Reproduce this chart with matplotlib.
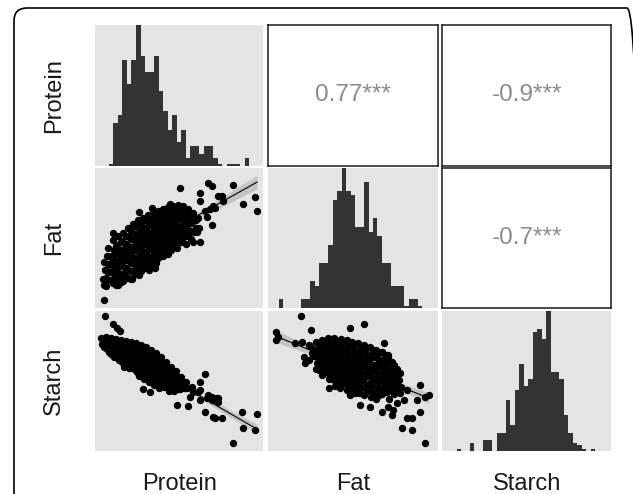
import numpy as np
import matplotlib
matplotlib.use("Agg")
import matplotlib.pyplot as plt
from matplotlib.patches import FancyBboxPatch
from matplotlib.transforms import IdentityTransform

plt.rcParams['font.family'] = ['Liberation Sans', 'DejaVu Sans']

variables = ["Protein", "Fat", "Starch"]
limits = {"Protein": (8.0, 24.83), "Fat": (1.99, 9.02), "Starch": (54.95, 74.88)}

# ---- diagonal histograms (bin start, bin width, counts) ----
protein_hist_start = 9.383
protein_hist_width = 0.4533
protein_hist_counts = [0.5, 11, 13, 27, 21, 27, 36, 28, 24, 24, 28, 19, 14, 9, 13, 6, 9, 2,
                       5, 5, 3, 5, 5, 2, 0.5, 0, 0.5, 0.5, 0.5, 0, 2]

fat_hist_start = 2.4216
fat_hist_width = 0.1866
fat_hist_counts = [2, 0, 0, 0, 0, 2, 2, 6, 5, 10, 10, 14, 24, 26, 31, 26, 25, 18, 18, 28, 17,
                   20, 16, 10, 10, 5, 5, 5, 0.5, 2, 2, 0.5]

starch_hist_start = 56.63
starch_hist_width = 0.5288
starch_hist_counts = [0.5, 0, 0, 2, 0, 0, 3, 3, 0, 5, 5, 14, 7, 17, 24, 18, 20, 33, 34, 31, 39,
                      22, 22, 20, 10, 5, 2, 1.5, 0.5, 0, 0.5]

# ---- lower scatter panels (x, y) ----
fat_vs_protein = [
    (8.9, 4.3), (9.0, 3.9), (8.8, 3.45), (8.9, 3.15), (8.9, 2.4),
    (9.3, 5.0), (9.2, 4.6), (9.4, 4.2), (9.3, 3.8), (9.2, 3.4),
    (9.8, 5.4), (9.9, 4.9), (9.7, 4.5), (9.8, 4.1), (9.9, 3.7), (9.8, 3.25),
    (10.3, 5.6), (10.2, 5.15), (10.4, 4.75), (10.3, 4.35), (10.2, 3.95), (10.4, 3.55), (10.3, 3.15),
    (10.8, 5.75), (10.7, 5.35), (10.9, 4.95), (10.8, 4.55), (10.7, 4.15), (10.9, 3.75), (10.8, 3.35),
    (11.3, 6.0), (11.4, 5.55), (11.2, 5.15), (11.3, 4.75), (11.4, 4.35), (11.2, 3.95), (11.3, 3.5),
    (11.8, 6.2), (11.7, 5.8), (11.9, 5.4), (11.8, 5.0), (11.7, 4.6), (11.9, 4.2), (11.8, 3.8), (11.7, 3.45),
    (12.3, 6.4), (12.4, 6.0), (12.2, 5.6), (12.3, 5.2), (12.4, 4.8), (12.2, 4.4), (12.3, 4.0), (12.4, 3.65),
    (12.8, 6.5), (12.7, 6.1), (12.9, 5.7), (12.8, 5.3), (12.7, 4.9), (12.9, 4.5), (12.8, 4.1),
    (13.3, 6.65), (13.4, 6.25), (13.2, 5.85), (13.3, 5.45), (13.4, 5.05), (13.2, 4.65), (13.3, 4.25), (13.4, 3.9),
    (13.8, 6.8), (13.7, 6.4), (13.9, 6.0), (13.8, 5.6), (13.7, 5.2), (13.9, 4.8), (13.8, 4.4), (13.7, 4.05),
    (14.3, 6.9), (14.4, 6.5), (14.2, 6.1), (14.3, 5.7), (14.4, 5.3), (14.2, 4.9), (14.3, 4.5),
    (14.8, 7.0), (14.7, 6.6), (14.9, 6.2), (14.8, 5.8), (14.7, 5.4), (14.9, 5.0), (14.8, 4.6),
    (15.3, 7.1), (15.4, 6.7), (15.2, 6.3), (15.3, 5.9), (15.4, 5.5), (15.2, 5.1), (15.3, 4.7),
    (15.8, 7.15), (15.7, 6.75), (15.9, 6.35), (15.8, 5.95), (15.7, 5.55), (15.9, 5.15),
    (16.3, 7.2), (16.4, 6.8), (16.2, 6.4), (16.3, 6.0), (16.4, 5.6), (16.2, 5.0),
    (16.8, 7.15), (16.7, 6.7), (16.9, 6.25), (16.8, 5.8), (16.7, 5.35),
    (17.3, 7.0), (17.4, 6.55), (17.2, 6.1), (17.3, 5.65),
    (17.8, 6.8), (17.7, 6.3), (17.9, 5.8),
    (18.3, 6.5), (18.4, 6.0),
    (16.5, 8.05), (19.3, 8.3), (19.7, 8.15), (21.8, 8.2), (18.5, 7.8), (18.5, 7.4),
    (20.7, 7.65), (22.8, 7.25), (24.0, 7.6), (24.2, 6.9), (19.7, 6.15), (18.5, 5.3),
    (13.7, 7.05), (12.4, 6.85), (9.8, 5.75), (14.0, 4.0), (19.0, 6.9), (19.5, 7.0),
    (20.0, 7.05), (20.3, 7.65), (20.8, 7.4), (19.2, 6.55), (19.8, 7.15), (18.2, 5.8),
    (17.8, 5.3), (15.5, 7.25), (16.3, 7.05),
]
fat_vs_protein_core = [
    (9.1, 3.9), (9.1, 3.5), (9.1, 3.1),
    (9.55, 4.6), (9.55, 4.2), (9.55, 3.8), (9.55, 3.4),
    (10.05, 5.1), (10.05, 4.7), (10.05, 4.3), (10.05, 3.9), (10.05, 3.5), (10.05, 3.15),
    (10.55, 5.3), (10.55, 4.9), (10.55, 4.5), (10.55, 4.1), (10.55, 3.7), (10.55, 3.3),
    (11.05, 5.6), (11.05, 5.2), (11.05, 4.8), (11.05, 4.4), (11.05, 4.0), (11.05, 3.6),
    (11.55, 5.85), (11.55, 5.45), (11.55, 5.05), (11.55, 4.65), (11.55, 4.25), (11.55, 3.85), (11.55, 3.45),
    (12.05, 6.1), (12.05, 5.7), (12.05, 5.3), (12.05, 4.9), (12.05, 4.5), (12.05, 4.1), (12.05, 3.7),
    (12.55, 6.25), (12.55, 5.85), (12.55, 5.45), (12.55, 5.05), (12.55, 4.65), (12.55, 4.25), (12.55, 3.85),
    (13.05, 6.4), (13.05, 6.0), (13.05, 5.6), (13.05, 5.2), (13.05, 4.8), (13.05, 4.4), (13.05, 4.0),
    (13.55, 6.55), (13.55, 6.15), (13.55, 5.75), (13.55, 5.35), (13.55, 4.95), (13.55, 4.55), (13.55, 4.15),
    (14.05, 6.65), (14.05, 6.25), (14.05, 5.85), (14.05, 5.45), (14.05, 5.05), (14.05, 4.65), (14.05, 4.25),
    (14.55, 6.75), (14.55, 6.35), (14.55, 5.95), (14.55, 5.55), (14.55, 5.15), (14.55, 4.75),
    (15.05, 6.85), (15.05, 6.45), (15.05, 6.05), (15.05, 5.65), (15.05, 5.25), (15.05, 4.85),
    (15.55, 6.9), (15.55, 6.5), (15.55, 6.1), (15.55, 5.7), (15.55, 5.3), (15.55, 4.9),
    (16.05, 6.95), (16.05, 6.55), (16.05, 6.15), (16.05, 5.75), (16.05, 5.35),
    (16.55, 6.9), (16.55, 6.5), (16.55, 6.1), (16.55, 5.7), (16.55, 5.3),
    (17.05, 6.8), (17.05, 6.4), (17.05, 6.0), (17.05, 5.6), (17.05, 5.2),
    (17.55, 6.65), (17.55, 6.25), (17.55, 5.85), (17.55, 5.45),
    (18.05, 6.4), (18.05, 6.0),
]

starch_vs_protein = [
    (9.0, 74.14), (9.83, 73.0), (10.17, 72.39), (10.5, 72.0),
    (8.6, 71.0), (8.7, 70.14),
    (9.1, 71.14), (9.0, 70.29), (9.2, 69.43),
    (9.6, 71.0), (9.7, 70.14), (9.5, 69.29), (9.6, 68.71),
    (10.1, 70.86), (10.0, 70.0), (10.2, 69.14), (10.1, 68.29),
    (10.6, 70.71), (10.7, 69.86), (10.5, 69.0), (10.6, 68.14), (10.7, 67.57),
    (11.1, 70.57), (11.0, 69.71), (11.2, 68.86), (11.1, 68.0), (11.0, 67.14),
    (11.6, 70.43), (11.7, 69.57), (11.5, 68.71), (11.6, 67.86), (11.7, 67.0),
    (12.1, 70.29), (12.0, 69.43), (12.2, 68.57), (12.1, 67.71), (12.0, 66.86), (12.2, 66.14),
    (12.6, 70.0), (12.7, 69.14), (12.5, 68.29), (12.6, 67.43), (12.7, 66.57), (12.5, 65.71),
    (13.1, 69.71), (13.0, 68.86), (13.2, 68.0), (13.1, 67.14), (13.0, 66.29), (13.2, 65.43),
    (13.6, 69.29), (13.7, 68.43), (13.5, 67.57), (13.6, 66.71), (13.7, 65.86), (13.5, 65.0),
    (14.1, 68.86), (14.0, 68.0), (14.2, 67.14), (14.1, 66.29), (14.0, 65.43), (14.2, 64.57),
    (14.6, 68.29), (14.7, 67.43), (14.5, 66.57), (14.6, 65.71), (14.7, 64.86), (14.5, 64.14),
    (15.1, 67.57), (15.0, 66.71), (15.2, 65.86), (15.1, 65.0), (15.0, 64.14),
    (15.6, 66.86), (15.7, 66.0), (15.5, 65.14), (15.6, 64.29), (15.7, 63.57),
    (16.1, 66.29), (16.0, 65.43), (16.2, 64.57), (16.1, 63.71),
    (16.6, 65.43), (16.7, 64.57), (16.5, 63.71),
    (17.1, 64.71), (17.0, 63.86),
    (12.83, 63.67), (13.5, 63.33), (16.17, 61.43), (17.33, 61.29), (19.0, 65.86), (18.5, 64.76),
    (17.67, 63.95), (18.33, 63.33), (17.5, 62.62), (18.5, 62.14), (17.83, 63.33), (19.33, 62.86),
    (19.67, 62.62), (20.33, 62.38), (19.0, 60.48), (19.83, 59.76), (20.0, 59.52), (20.67, 59.52),
    (22.67, 60.48), (24.17, 60.14), (22.83, 58.1), (24.0, 57.86), (21.83, 56.05), (16.83, 64.29),
    (17.17, 63.81), (18.5, 63.57), (19.17, 62.38), (20.33, 61.9), (19.67, 62.14), (20.17, 62.38),
]
starch_vs_protein_core = [
    (8.85, 70.57), (8.85, 69.71),
    (9.35, 70.71), (9.35, 69.86), (9.35, 69.0),
    (9.85, 70.57), (9.85, 69.71), (9.85, 68.86), (9.85, 68.3),
    (10.35, 70.43), (10.35, 69.57), (10.35, 68.71), (10.35, 67.86),
    (10.85, 70.29), (10.85, 69.43), (10.85, 68.57), (10.85, 67.71), (10.85, 66.9),
    (11.35, 70.14), (11.35, 69.29), (11.35, 68.43), (11.35, 67.57), (11.35, 66.71),
    (11.85, 70.0), (11.85, 69.14), (11.85, 68.29), (11.85, 67.43), (11.85, 66.57),
    (12.35, 69.71), (12.35, 68.86), (12.35, 68.0), (12.35, 67.14), (12.35, 66.29), (12.35, 65.5),
    (12.85, 69.43), (12.85, 68.57), (12.85, 67.71), (12.85, 66.86), (12.85, 66.0), (12.85, 65.14),
    (13.35, 69.0), (13.35, 68.14), (13.35, 67.29), (13.35, 66.43), (13.35, 65.57), (13.35, 64.71),
    (13.85, 68.57), (13.85, 67.71), (13.85, 66.86), (13.85, 66.0), (13.85, 65.14), (13.85, 64.29),
    (14.35, 68.0), (14.35, 67.14), (14.35, 66.29), (14.35, 65.43), (14.35, 64.57), (14.35, 63.9),
    (14.85, 67.43), (14.85, 66.57), (14.85, 65.71), (14.85, 64.86), (14.85, 64.0),
    (15.35, 66.71), (15.35, 65.86), (15.35, 65.0), (15.35, 64.14), (15.35, 63.5),
    (15.85, 66.0), (15.85, 65.14), (15.85, 64.29), (15.85, 63.5),
    (16.35, 65.43), (16.35, 64.57), (16.35, 63.71),
    (16.85, 64.71), (16.85, 63.86),
]

starch_vs_fat = [
    (3.33, 74.14), (2.33, 71.9), (2.39, 71.19), (2.33, 70.71), (3.77, 72.14), (5.40, 72.38),
    (5.98, 73.0), (3.12, 70.24), (3.40, 70.48), (3.67, 70.0), (3.46, 68.33), (3.53, 67.38),
    (4.09, 66.43), (4.23, 65.71), (6.78, 70.24), (6.72, 69.05), (6.98, 68.57), (7.23, 67.14),
    (3.74, 69.86), (3.80, 68.86), (3.70, 67.86),
    (3.99, 70.43), (4.05, 69.43), (3.95, 68.43), (4.02, 67.43), (3.96, 66.57),
    (4.24, 70.71), (4.30, 69.71), (4.20, 68.71), (4.27, 67.71), (4.21, 66.71), (4.28, 66.0),
    (4.49, 71.0), (4.44, 70.0), (4.53, 69.0), (4.47, 68.0), (4.52, 67.0), (4.45, 66.0), (4.50, 65.14),
    (4.74, 71.0), (4.79, 70.0), (4.70, 69.0), (4.76, 68.0), (4.71, 67.0), (4.78, 66.0), (4.73, 65.0), (4.77, 64.14),
    (4.99, 70.86), (4.94, 69.86), (5.03, 68.86), (4.97, 67.86), (5.02, 66.86), (4.95, 65.86), (5.01, 64.86), (4.96, 63.86),
    (5.24, 70.71), (5.29, 69.71), (5.20, 68.71), (5.26, 67.71), (5.21, 66.71), (5.28, 65.71), (5.22, 64.71), (5.27, 63.57),
    (5.48, 70.43), (5.43, 69.43), (5.52, 68.43), (5.46, 67.43), (5.51, 66.43), (5.44, 65.43), (5.50, 64.43), (5.45, 63.29),
    (5.73, 70.29), (5.78, 69.29), (5.69, 68.29), (5.75, 67.29), (5.70, 66.29), (5.77, 65.29), (5.71, 64.29), (5.76, 63.14),
    (5.98, 70.0), (5.93, 69.0), (6.02, 68.0), (5.96, 67.0), (6.01, 66.0), (5.94, 65.0), (6.00, 64.0), (5.95, 62.86),
    (6.23, 69.71), (6.28, 68.71), (6.19, 67.71), (6.25, 66.71), (6.20, 65.71), (6.27, 64.71), (6.21, 63.71), (6.26, 62.57),
    (6.48, 69.29), (6.43, 68.29), (6.52, 67.29), (6.46, 66.29), (6.51, 65.29), (6.44, 64.29), (6.50, 63.29), (6.45, 62.29),
    (6.73, 69.0), (6.78, 68.0), (6.69, 67.0), (6.75, 66.0), (6.70, 65.0), (6.77, 64.0), (6.71, 63.0),
    (6.98, 68.29), (6.93, 67.29), (7.02, 66.29), (6.96, 65.29), (7.01, 64.29), (6.94, 63.29), (7.00, 62.29),
    (7.23, 67.0), (7.28, 66.0), (7.19, 65.0), (7.25, 64.0), (7.20, 63.0),
    (7.47, 66.0), (7.43, 65.0), (7.50, 64.0), (7.45, 63.14),
    (8.30, 64.29), (8.65, 62.86), (8.51, 62.62), (8.30, 60.48), (7.75, 59.52), (7.96, 59.52),
    (7.55, 58.1), (7.96, 57.86), (8.51, 55.95), (6.72, 60.48), (7.13, 60.0), (5.82, 61.43),
    (4.50, 63.81), (4.64, 65.24), (5.40, 62.86), (7.47, 63.81), (7.75, 63.57), (7.61, 62.14),
    (7.33, 61.67), (6.98, 61.19), (7.19, 60.71), (6.23, 61.19), (8.17, 62.14),
]
starch_vs_fat_core = [
    (3.86, 69.36), (3.86, 68.36),
    (4.11, 69.93), (4.11, 68.93), (4.11, 67.93), (4.11, 66.93),
    (4.36, 70.21), (4.36, 69.21), (4.36, 68.21), (4.36, 67.21), (4.36, 66.3),
    (4.61, 70.5), (4.61, 69.5), (4.61, 68.5), (4.61, 67.5), (4.61, 66.5), (4.61, 65.5),
    (4.86, 70.5), (4.86, 69.5), (4.86, 68.5), (4.86, 67.5), (4.86, 66.5), (4.86, 65.5), (4.86, 64.5),
    (5.11, 70.36), (5.11, 69.36), (5.11, 68.36), (5.11, 67.36), (5.11, 66.36), (5.11, 65.36), (5.11, 64.36),
    (5.36, 70.21), (5.36, 69.21), (5.36, 68.21), (5.36, 67.21), (5.36, 66.21), (5.36, 65.21), (5.36, 64.21), (5.36, 63.4),
    (5.61, 70.0), (5.61, 69.0), (5.61, 68.0), (5.61, 67.0), (5.61, 66.0), (5.61, 65.0), (5.61, 64.0), (5.61, 63.2),
    (5.86, 69.79), (5.86, 68.79), (5.86, 67.79), (5.86, 66.79), (5.86, 65.79), (5.86, 64.79), (5.86, 63.79),
    (6.11, 69.5), (6.11, 68.5), (6.11, 67.5), (6.11, 66.5), (6.11, 65.5), (6.11, 64.5), (6.11, 63.5),
    (6.36, 69.21), (6.36, 68.21), (6.36, 67.21), (6.36, 66.21), (6.36, 65.21), (6.36, 64.21), (6.36, 63.21),
    (6.61, 68.9), (6.61, 67.9), (6.61, 66.9), (6.61, 65.9), (6.61, 64.9), (6.61, 63.9), (6.61, 62.9),
    (6.86, 68.5), (6.86, 67.5), (6.86, 66.5), (6.86, 65.5), (6.86, 64.5), (6.86, 63.5),
    (7.11, 67.6), (7.11, 66.6), (7.11, 65.6), (7.11, 64.6), (7.11, 63.6),
    (7.35, 66.5), (7.35, 65.5), (7.35, 64.5), (7.35, 63.5),
]

corr_labels = {(0, 1): "0.77***", (0, 2): "-0.9***", (1, 2): "-0.7***"}

hist_data = {
    "Protein": (protein_hist_start, protein_hist_width, protein_hist_counts),
    "Fat": (fat_hist_start, fat_hist_width, fat_hist_counts),
    "Starch": (starch_hist_start, starch_hist_width, starch_hist_counts),
}
scatter_data = {
    (1, 0): fat_vs_protein + fat_vs_protein_core,
    (2, 0): starch_vs_protein + starch_vs_protein_core,
    (2, 1): starch_vs_fat + starch_vs_fat_core,
}

# ---- layout (pixels) ----
W, H = 633, 494
col_px = [(95, 263.3), (268.3, 437.5), (442.3, 611)]
row_px = [(25, 165.5), (168.3, 308.3), (310.7, 450.5)]

panel_bg = "#E4E4E4"
bar_color = "#333333"

fig = plt.figure(figsize=(W / 100, H / 100), dpi=100)


def add_panel(i, j):
    x0, x1 = col_px[j]
    y0, y1 = row_px[i]
    return fig.add_axes([x0 / W, 1 - y1 / H, (x1 - x0) / W, (y1 - y0) / H])


for i in range(3):
    for j in range(3):
        ax = add_panel(i, j)
        ax.set_xticks([])
        ax.set_yticks([])
        if i == j:
            var = variables[i]
            start, width, counts = hist_data[var]
            edges = start + width * np.arange(len(counts))
            ax.set_facecolor(panel_bg)
            ax.bar(edges, counts, width=width, align="edge", color=bar_color, linewidth=0)
            ax.set_xlim(*limits[var])
            ax.set_ylim(0, max(counts))
            for s in ax.spines.values():
                s.set_visible(False)
        elif i > j:
            pts = np.array(scatter_data[(i, j)])
            x, y = pts[:, 0], pts[:, 1]
            ax.set_facecolor(panel_bg)
            slope, intercept = np.polyfit(x, y, 1)
            xs = np.linspace(x.min(), x.max(), 100)
            yhat = slope * xs + intercept
            resid = y - (slope * x + intercept)
            n = len(x)
            s_err = np.sqrt(np.sum(resid ** 2) / (n - 2))
            se = s_err * np.sqrt(1 / n + (xs - x.mean()) ** 2 / np.sum((x - x.mean()) ** 2))
            ax.fill_between(xs, yhat - 1.97 * se, yhat + 1.97 * se, color="#B0B0B0",
                            alpha=0.6, linewidth=0, zorder=1.5)
            ax.scatter(x, y, s=28, c="black", linewidths=0, zorder=2)
            ax.plot(xs, yhat, color="black", linewidth=0.8, zorder=4)
            ax.set_xlim(*limits[variables[j]])
            ax.set_ylim(*limits[variables[i]])
            for s in ax.spines.values():
                s.set_visible(False)
        else:
            ax.set_facecolor("white")
            ax.set_xlim(0, 1)
            ax.set_ylim(0, 1)
            for s in ax.spines.values():
                s.set_color("#1a1a1a")
                s.set_linewidth(1.1)
            ax.text(0.5, 0.5, corr_labels[(i, j)], ha="center", va="center",
                    fontsize=17.5, color="#8C8C8C")

# variable labels
for k, var in enumerate(variables):
    yc = (row_px[k][0] + row_px[k][1]) / 2
    fig.text(60 / W, 1 - yc / H, var, rotation=90, rotation_mode="anchor",
             ha="center", va="baseline", fontsize=17, color="#1a1a1a")
    xc = (col_px[k][0] + col_px[k][1]) / 2
    fig.text(xc / W, 1 - 489.5 / H, var, ha="center", va="baseline",
             fontsize=17, color="#1a1a1a")

# rounded outer frame (partly outside the image)
frame = FancyBboxPatch((14, -16), 626, 502, boxstyle="round,pad=0,rounding_size=13",
                       transform=IdentityTransform(), fill=False, edgecolor="black",
                       linewidth=1.2, clip_on=False)
fig.add_artist(frame)

fig.savefig("out.png", dpi=100)
